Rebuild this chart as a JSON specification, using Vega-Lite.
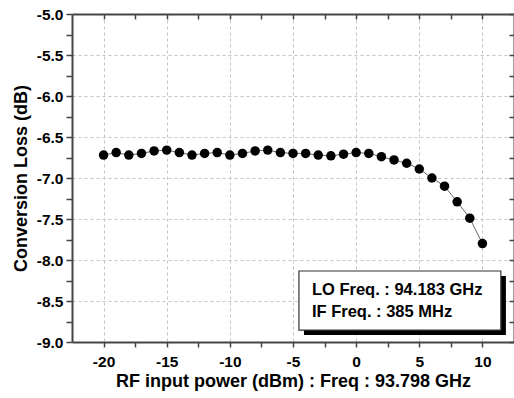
{
  "$schema": "https://vega.github.io/schema/vega-lite/v6.json",
  "width": 442,
  "height": 328,
  "autosize": "none",
  "padding": {"left": 72, "top": 14, "right": 0, "bottom": 56},
  "background": "white",
  "config": {
    "view": {"stroke": null},
    "font": "Liberation Sans",
    "axis": {
      "domainColor": "#444",
      "domainWidth": 2,
      "tickColor": "#444",
      "tickWidth": 1.5,
      "labelFont": "Liberation Sans",
      "labelFontWeight": "bold",
      "labelFontSize": 15.5,
      "labelColor": "black",
      "titleFont": "Liberation Sans",
      "titleFontWeight": "bold",
      "titleFontSize": 18,
      "titleColor": "black",
      "gridColor": "#c4c4c4",
      "gridDash": [3, 3],
      "gridWidth": 1
    }
  },
  "datasets": {
    "meas": [
      {"p": -20, "loss": -6.72},
      {"p": -19, "loss": -6.69},
      {"p": -18, "loss": -6.72},
      {"p": -17, "loss": -6.70},
      {"p": -16, "loss": -6.67},
      {"p": -15, "loss": -6.66},
      {"p": -14, "loss": -6.69},
      {"p": -13, "loss": -6.72},
      {"p": -12, "loss": -6.70},
      {"p": -11, "loss": -6.69},
      {"p": -10, "loss": -6.72},
      {"p": -9, "loss": -6.70},
      {"p": -8, "loss": -6.67},
      {"p": -7, "loss": -6.66},
      {"p": -6, "loss": -6.69},
      {"p": -5, "loss": -6.70},
      {"p": -4, "loss": -6.70},
      {"p": -3, "loss": -6.72},
      {"p": -2, "loss": -6.73},
      {"p": -1, "loss": -6.71},
      {"p": 0, "loss": -6.69},
      {"p": 1, "loss": -6.70},
      {"p": 2, "loss": -6.74},
      {"p": 3, "loss": -6.78},
      {"p": 4, "loss": -6.82},
      {"p": 5, "loss": -6.89},
      {"p": 6, "loss": -7.00},
      {"p": 7, "loss": -7.10},
      {"p": 8, "loss": -7.29},
      {"p": 9, "loss": -7.49},
      {"p": 10, "loss": -7.80}
    ],
    "box": [
      {"x1": -4.53, "x2": 11.46, "y1": -8.134, "y2": -8.854, "sx1": -4.13, "sx2": 11.86, "sy1": -8.194, "sy2": -8.914}
    ],
    "notes": [
      {"x": -3.5, "y": -8.37, "text": "LO Freq. : 94.183 GHz"},
      {"x": -3.5, "y": -8.635, "text": "IF Freq. : 385 MHz"}
    ]
  },
  "layer": [
    {
      "data": {"name": "meas"},
      "mark": {"type": "line", "color": "#666", "strokeWidth": 1, "clip": true},
      "encoding": {
        "x": {"field": "p", "type": "quantitative",
          "scale": {"domain": [-22.5, 12.5], "nice": false, "zero": false},
          "axis": {"orient": "top", "values": [-20, -17.5, -15, -12.5, -10, -7.5, -5, -2.5, 0, 2.5, 5, 7.5, 10],
            "labels": false, "title": null, "grid": false, "tickSize": -5}},
        "y": {"field": "loss", "type": "quantitative",
          "scale": {"domain": [-9, -5], "nice": false, "zero": false},
          "axis": {"orient": "right", "values": [-9, -8.75, -8.5, -8.25, -8, -7.75, -7.5, -7.25, -7, -6.75, -6.5, -6.25, -6, -5.75, -5.5, -5.25, -5],
            "labels": false, "title": null, "grid": false, "tickSize": -5}}
      }
    },
    {
      "data": {"name": "meas"},
      "mark": {"type": "point", "filled": true, "color": "black", "opacity": 1, "size": 90, "shape": "circle"},
      "encoding": {
        "x": {"field": "p", "type": "quantitative",
          "axis": {"orient": "bottom", "values": [-20, -17.5, -15, -12.5, -10, -7.5, -5, -2.5, 0, 2.5, 5, 7.5, 10],
            "tickSize": 5, "labelPadding": 7,
            "grid": true,
            "gridOpacity": {"condition": {"test": "datum.value % 5 === 0", "value": 1}, "value": 0},
            "labelExpr": "datum.value % 5 === 0 ? '' + datum.value : ''",
            "title": "RF input power (dBm) : Freq : 93.798 GHz", "titlePadding": 3}},
        "y": {"field": "loss", "type": "quantitative",
          "axis": {"orient": "left", "values": [-9, -8.75, -8.5, -8.25, -8, -7.75, -7.5, -7.25, -7, -6.75, -6.5, -6.25, -6, -5.75, -5.5, -5.25, -5],
            "tickSize": 6, "labelPadding": 3,
            "grid": true,
            "gridOpacity": {"condition": {"test": "abs(datum.value * 2 - round(datum.value * 2)) < 0.001", "value": 1}, "value": 0},
            "labelExpr": "abs(datum.value * 2 - round(datum.value * 2)) < 0.001 ? replace(format(datum.value, '.1f'), '\u2212', '-') : ''",
            "title": "Conversion Loss (dB)", "titlePadding": 6}}
      }
    },
    {
      "data": {"name": "box"},
      "mark": {"type": "rect", "color": "black"},
      "encoding": {
        "x": {"field": "sx1", "type": "quantitative", "axis": null},
        "x2": {"field": "sx2"},
        "y": {"field": "sy1", "type": "quantitative", "axis": null},
        "y2": {"field": "sy2"}
      }
    },
    {
      "data": {"name": "box"},
      "mark": {"type": "rect", "fill": "white", "stroke": "#333", "strokeWidth": 1.2},
      "encoding": {
        "x": {"field": "x1", "type": "quantitative", "axis": null},
        "x2": {"field": "x2"},
        "y": {"field": "y1", "type": "quantitative", "axis": null},
        "y2": {"field": "y2"}
      }
    },
    {
      "data": {"name": "notes"},
      "mark": {"type": "text", "align": "left", "baseline": "middle", "font": "Liberation Sans", "fontWeight": "bold", "fontSize": 16.5, "color": "black"},
      "encoding": {
        "x": {"field": "x", "type": "quantitative", "axis": null},
        "y": {"field": "y", "type": "quantitative", "axis": null},
        "text": {"field": "text"}
      }
    }
  ],
  "resolve": {"axis": {"x": "independent", "y": "independent"}}
}
